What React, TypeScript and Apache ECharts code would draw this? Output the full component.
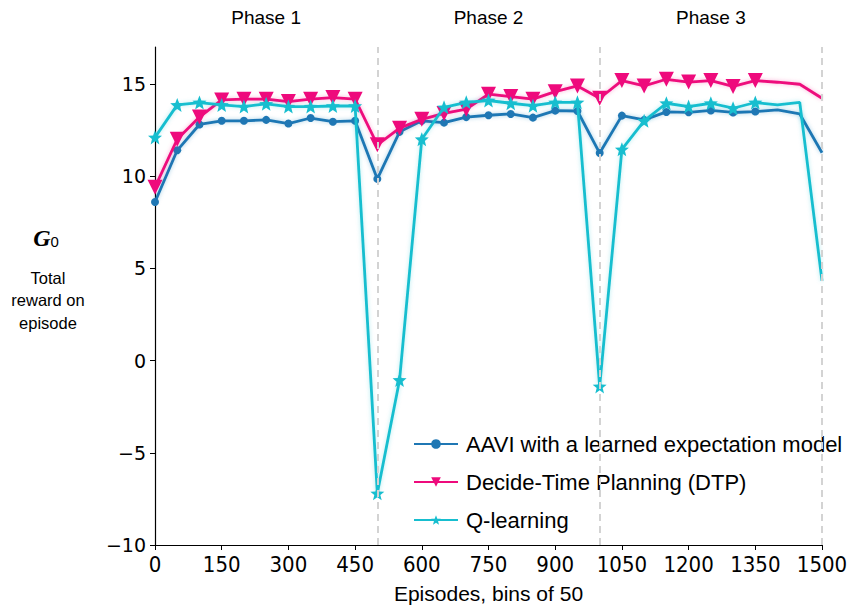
import React, { useEffect, useRef } from "react";
import * as echarts from "echarts";

const episodes = [0, 50, 100, 150, 200, 250, 300, 350, 400, 450, 500, 550, 600, 650, 700, 750, 800, 850, 900, 950, 1000, 1050, 1100, 1150, 1200, 1250, 1300, 1350, 1400, 1450, 1500];

const aavi = [8.6, 11.4, 12.8, 13.0, 13.0, 13.05, 12.85, 13.15, 12.95, 13.0, 9.85, 12.4, 13.0, 12.9, 13.2, 13.3, 13.37, 13.17, 13.55, 13.53, 11.25, 13.28, 13.05, 13.48, 13.46, 13.56, 13.45, 13.5, 13.59, 13.37, 11.27];

const dtp = [9.4, 12.0, 13.2, 14.13, 14.17, 14.17, 14.04, 14.17, 14.26, 14.17, 11.7, 12.6, 13.08, 13.4, 13.63, 14.44, 14.31, 14.17, 14.58, 14.89, 14.22, 15.18, 14.89, 15.25, 15.1, 15.18, 14.86, 15.18, 15.09, 14.98, 14.22];

const qlearn = [12.1, 13.86, 13.99, 13.86, 13.77, 13.92, 13.77, 13.77, 13.8, 13.8, -7.2, -1.05, 12.0, 13.73, 14.0, 14.1, 13.95, 13.82, 14.0, 14.0, -1.4, 11.45, 13.0, 13.95, 13.77, 13.95, 13.68, 13.99, 13.86, 14.0, 4.32];

const seriesNames = ["AAVI with a learned expectation model", "Decide-Time Planning (DTP)", "Q-learning"];
const phaseBoundaries = [500, 1000, 1500];
const phaseLabels = ["Phase 1", "Phase 2", "Phase 3"];
const phaseCenters = [250, 750, 1250];
const yTicks = [-10, -5, 0, 5, 10, 15];
const lastMarkedEpisode = 1350;

const STAR = "path://M0,-10 L2.6,-3.4 L9.5,-3.1 L4.1,1.3 L5.9,8.1 L0,4.2 L-5.9,8.1 L-4.1,1.3 L-9.5,-3.1 L-2.6,-3.4 Z";

function toData(vals: number[]) {
  return vals.map((v, i) => {
    const item: any = { value: [episodes[i], v] };
    if (episodes[i] > lastMarkedEpisode) item.symbol = "none";
    return item;
  });
}

const GRID = { left: 155, right: 29, top: 47, bottom: 65 };
const W = 851;
const SANS = "Liberation Sans, Arial, sans-serif";
const DEJAVU = "DejaVu Sans, sans-serif";
const COND = "DejaVu Sans Condensed, DejaVu Sans, sans-serif";

export default function App() {
  const ref = useRef<HTMLDivElement>(null);
  useEffect(() => {
    if (!ref.current) return;
    const chart = echarts.init(ref.current, null, { renderer: "svg" });
    const plotW = W - GRID.left - GRID.right;
    const xPx = (v: number) => GRID.left + (v / 1500) * plotW;
    const option: any = {
      animation: false,
      textStyle: { fontFamily: SANS },
      grid: GRID,
      legend: {
        data: seriesNames,
        orient: "vertical",
        left: 408,
        top: 428,
        itemWidth: 44,
        itemHeight: 12,
        itemGap: 16,
        textStyle: { fontSize: 22, color: "#000", fontFamily: SANS, padding: [0, 0, 0, 3] },
      },
      xAxis: {
        type: "value",
        min: 0,
        max: 1500,
        interval: 150,
        name: "Episodes, bins of 50",
        nameLocation: "middle",
        nameGap: 38,
        nameTextStyle: { fontSize: 21, color: "#000", fontFamily: SANS },
        axisLine: { onZero: false, lineStyle: { color: "#000", width: 1.2 } },
        axisTick: { show: true, length: 5, lineStyle: { color: "#000" } },
        axisLabel: { fontSize: 22, color: "#000", margin: 8, fontFamily: COND, formatter: (v: number) => String(v) },
        splitLine: { show: false },
      },
      yAxis: {
        type: "value",
        min: -10,
        max: 17,
        interval: 5,
        axisLine: { show: true, lineStyle: { color: "#000", width: 1.2 } },
        axisTick: { show: true, length: 5, lineStyle: { color: "#000" }, customValues: yTicks },
        axisLabel: {
          fontSize: 19,
          color: "#000",
          margin: 9,
          fontFamily: DEJAVU,
          customValues: yTicks,
          formatter: (v: number) => (v < 0 ? "\u2212" + Math.abs(v) : String(v)),
        },
        splitLine: { show: false },
      },
      graphic: [
        ...phaseLabels.map((t, i) => ({
          type: "text",
          x: xPx(phaseCenters[i]),
          y: 17,
          style: { text: t, fontSize: 19, fill: "#000", align: "center", verticalAlign: "middle", fontFamily: SANS },
        })),
        {
          type: "text",
          x: 46,
          y: 238,
          style: {
            text: "{g|G}{s|0}",
            align: "center",
            verticalAlign: "middle",
            rich: {
              g: { fontSize: 24, fontWeight: "bold", fontStyle: "italic", fontFamily: "Liberation Serif, Times New Roman, serif", fill: "#000" },
              s: { fontSize: 15, fontFamily: SANS, fill: "#000", padding: [6, 0, 0, 0] },
            },
          },
        },
        {
          type: "text",
          x: 48,
          y: 300,
          style: {
            text: "Total\nreward on\nepisode",
            fontSize: 16.5,
            lineHeight: 22.5,
            align: "center",
            verticalAlign: "middle",
            fill: "#000",
            fontFamily: SANS,
          },
        },
      ],
      series: [
        {
          name: seriesNames[0],
          type: "line",
          data: toData(aavi),
          symbol: "circle",
          symbolSize: 8,
          z: 2,
          lineStyle: { color: "#1f77b4", width: 2.8, shadowColor: "rgba(31,119,180,0.35)", shadowBlur: 4 },
          itemStyle: { color: "#1f77b4" },
          markLine: {
            silent: true,
            symbol: ["none", "none"],
            label: { show: false },
            lineStyle: { color: "#d3d3d3", type: [7, 5], width: 2, shadowBlur: 0 },
            data: phaseBoundaries.map((b) => ({ xAxis: b })),
          },
        },
        {
          name: seriesNames[1],
          type: "line",
          data: toData(dtp),
          symbol: "triangle",
          symbolRotate: 180,
          symbolSize: 15,
          z: 3,
          lineStyle: { color: "#ee0a7c", width: 2.8, shadowColor: "rgba(238,10,124,0.3)", shadowBlur: 4 },
          itemStyle: { color: "#ee0a7c" },
        },
        {
          name: seriesNames[2],
          type: "line",
          data: toData(qlearn),
          symbol: STAR,
          symbolSize: 14,
          z: 4,
          lineStyle: { color: "#17becf", width: 2.8, shadowColor: "rgba(23,190,207,0.3)", shadowBlur: 4 },
          itemStyle: { color: "#17becf" },
        },
      ],
    };
    chart.setOption(option);
    return () => chart.dispose();
  }, []);
  return <div ref={ref} style={{ width: 851, height: 610, position: "absolute", left: 0, top: 0 }} />;
}
